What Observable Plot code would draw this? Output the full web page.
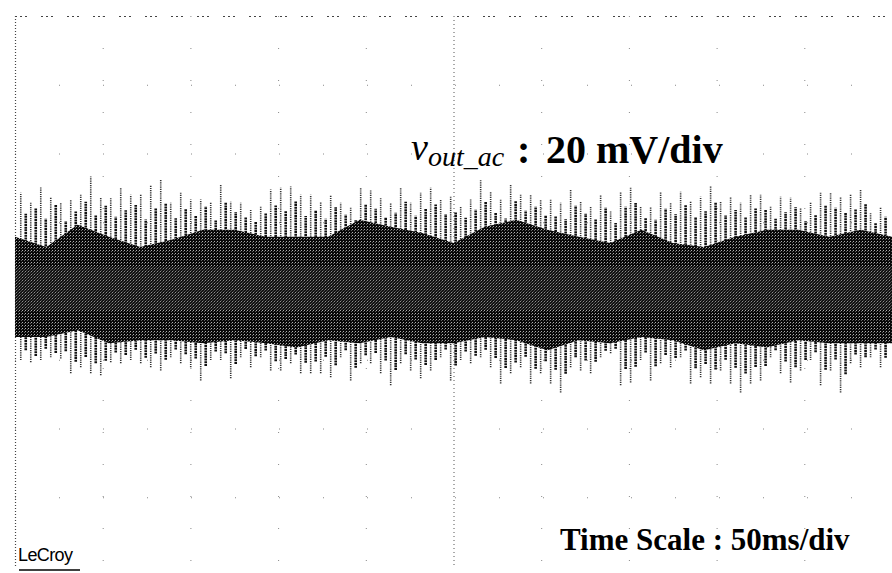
<!DOCTYPE html>
<html><head><meta charset="utf-8">
<script src="https://cdn.jsdelivr.net/npm/d3@7"></script>
<script src="https://cdn.jsdelivr.net/npm/@observablehq/plot@0.6"></script>
<style>
html,body{margin:0;padding:0;background:#fff;}
#wrap{position:relative;width:892px;height:573px;overflow:hidden;}
</style></head><body><div id="wrap"></div>
<script>
// v_out_ac noise trace, 20 mV/div, 50 ms/div (10 div x 8 div screen)
// Tallest spike excursions of the noise, read column by column (mV)
const peakHigh = [
  28.6,25.7,30.1,27.2,25.7,26.6,28.0,33.3,27.2,27.2,30.1,28.0,28.0,30.9,
  32.4,25.7,28.6,26.6,26.6,25.7,30.9,26.0,25.7,23.7,24.5,29.5,30.1,30.4,28.0,
  28.0,26.0,28.0,25.7,24.2,30.1,29.5,27.2,25.7,30.1,25.7,28.6,30.1,26.6,27.4,
  24.5,26.6,32.4,28.9,26.6,30.9,28.0,28.0,26.6,26.6,25.7,29.5,26.0,24.5,28.0,
  23.1,28.9,30.1,24.5,24.5,28.9,25.7,28.9,26.0,27.4,30.4,26.0,27.2,25.7,28.0,
  28.0,24.5,27.4,27.2,24.2,25.7,28.6,28.6,27.4,28.0,29.5,22.8,24.5
];
const peakLow = [
  -20.1,-20.7,-20.1,-19.3,-19.6,-23.9,-22.2,-23.9,-24.5,-20.7,-21.0,-20.1,-21.0,-22.2,
  -23.1,-19.3,-21.0,-22.2,-26.0,-20.1,-20.1,-25.4,-19.3,-22.2,-19.3,-23.1,-23.1,-21.0,-23.9,
  -23.9,-23.9,-25.1,-19.3,-26.0,-21.0,-21.0,-23.9,-27.4,-21.0,-23.1,-25.4,-23.1,-19.3,-26.0,
  -20.1,-21.0,-19.3,-22.2,-26.9,-23.9,-22.2,-26.9,-23.9,-26.9,-29.5,-22.2,-23.1,-23.9,-19.3,
  -18.1,-27.4,-26.6,-20.1,-26.0,-21.0,-22.2,-19.3,-26.9,-25.1,-26.9,-23.1,-26.9,-29.5,-26.9,
  -26.0,-19.3,-23.9,-26.6,-23.1,-20.1,-27.4,-23.1,-29.5,-21.0,-22.2,-19.3,-22.2
];
// Secondary (denser, darker) spikes between the tallest ones (mV)
const secondHigh = [
  22.5,24.0,21.0,25.2,20.4,23.1,26.0,22.0,24.8,21.6,23.5,25.0,20.8,24.2,
  25.5,21.2,23.8,22.0,24.6,20.5,25.8,23.0,21.4,20.2,22.6,24.9,23.3,26.1,21.8,
  23.6,21.0,24.4,22.2,20.6,25.3,23.9,21.5,22.8,26.0,21.9,24.1,25.2,22.4,23.0,
  21.3,23.7,25.9,22.9,21.1,26.2,23.4,24.6,22.1,21.8,20.9,24.8,22.5,21.0,24.3,
  19.8,24.5,25.6,21.2,20.7,23.9,22.3,25.1,21.5,23.2,25.9,22.0,23.6,21.4,24.0,
  23.8,21.0,22.9,24.4,20.3,22.1,25.0,24.2,22.7,23.9,25.4,19.9,21.6
];
const secondLow = [
  -17.2,-18.9,-16.8,-18.0,-17.5,-20.6,-19.2,-21.0,-20.3,-17.9,-18.6,-17.1,-19.4,-18.2,
  -20.0,-17.0,-18.4,-19.6,-21.8,-17.6,-18.1,-21.2,-16.9,-19.0,-17.3,-20.4,-19.8,-18.5,-20.9,
  -20.5,-19.1,-21.6,-17.2,-22.3,-18.7,-18.0,-20.2,-23.0,-18.4,-19.9,-21.5,-20.1,-17.0,-21.7,
  -17.6,-18.8,-17.1,-19.5,-22.4,-20.8,-19.1,-22.6,-20.4,-22.9,-24.1,-19.3,-20.2,-20.6,-17.4,
  -16.8,-22.7,-22.0,-17.9,-21.9,-18.6,-19.5,-17.3,-22.5,-21.2,-22.8,-20.0,-22.3,-24.0,-22.1,
  -21.8,-17.2,-20.5,-22.2,-20.1,-17.8,-22.9,-19.9,-24.2,-18.5,-19.3,-17.0,-19.4
];
// Dense core of the trace (mV)
const coreHigh = [15.8,12.8,19.3,15.8,12.8,14.9,17.8,17.8,15.8,15.8,15.8,20.7,18.7,16.9,14.0,
  18.7,20.7,17.8,15.8,14.0,17.8,14.0,12.8,15.8,17.8,17.8,15.8,17.8,15.8];
const coreLow = [-13.4,-13.4,-11.4,-15.2,-14.3,-14.3,-15.2,-14.3,-15.2,-16.4,-14.3,-15.2,-13.4,-15.2,-15.2,
  -13.4,-14.3,-17.2,-14.3,-15.2,-13.4,-14.3,-17.2,-15.2,-16.4,-14.3,-15.2,-15.2,-15.2];
const midBand = [7.0, -5.5];
const timeSpan = [0, 500];          // ms, 10 div x 50 ms
const voltSpan = [-80, 80];         // mV, 8 div x 20 mV
const xGrid = [50,100,150,200,300,350,400,450];
const yGrid = [-60,-40,-20,20,40,60];
const peakStep = 5.7, peakStart = 3;

const spikes = peakHigh.map((h, i) => ({t: peakStart + i * peakStep, hi: h, lo: peakLow[i]}));
const spikes2 = secondHigh.map((h, i) => ({t: peakStart + (i + 0.5) * peakStep, hi: h, lo: secondLow[i]}));
const core = coreHigh.map((h, i) => ({t: i * 500 / (coreHigh.length - 1), hi: h, lo: coreLow[i]}));
const mid = core.map(d => ({t: d.t, hi: midBand[0], lo: midBand[1]}));

const svg = Plot.plot({
  width: 892, height: 573,
  marginLeft: 15, marginRight: 0, marginTop: 16, marginBottom: 7,
  x: {domain: timeSpan, axis: null},
  y: {domain: voltSpan, axis: null},
  style: {background: "#fff"},
  marks: [
    Plot.ruleX(xGrid, {stroke: "#888", strokeWidth: 1, strokeDasharray: "1,31"}),
    Plot.ruleY(yGrid, {stroke: "#888", strokeWidth: 1, strokeDasharray: "1,43"}),
    Plot.ruleX([250], {stroke: "#555", strokeWidth: 1, strokeDasharray: "1,3"}),
    Plot.ruleX([0], {stroke: "#444", strokeWidth: 1.2, strokeDasharray: "1,2"}),
    Plot.ruleY([80], {stroke: "#444", strokeWidth: 1.2, strokeDasharray: "2,3,2,3,2,14"}),
    Plot.ruleX(spikes, {x: "t", y1: "lo", y2: "hi", stroke: "#333", strokeWidth: 1.6, strokeDasharray: "1.2,1"}),
    Plot.ruleX(spikes2, {x: "t", y1: "lo", y2: "hi", stroke: "#111", strokeWidth: 2.6, strokeDasharray: "2,0.7"}),
    Plot.areaY(core, {x: "t", y1: "lo", y2: "hi", fill: "url(#corePat)", curve: "linear"}),
    Plot.areaY(mid, {x: "t", y1: "lo", y2: "hi", fill: "url(#midPat)"})
  ]
});

const defs = d3.select(svg).insert("defs", ":first-child");
const p1 = defs.append("pattern").attr("id", "corePat").attr("patternUnits", "userSpaceOnUse").attr("width", 3).attr("height", 3);
p1.append("rect").attr("width", 3).attr("height", 3).attr("fill", "#080808");
p1.append("rect").attr("x", 1).attr("y", 1).attr("width", 1).attr("height", 1).attr("fill", "#b0b0b0");
p1.append("rect").attr("x", 0).attr("y", 2).attr("width", 1).attr("height", 1).attr("fill", "#606060");
const p2 = defs.append("pattern").attr("id", "midPat").attr("patternUnits", "userSpaceOnUse").attr("width", 3).attr("height", 3);
p2.append("rect").attr("width", 3).attr("height", 3).attr("fill", "#121212");
p2.append("rect").attr("x", 1).attr("y", 1).attr("width", 1).attr("height", 1).attr("fill", "#b0b0b0");
p2.append("path").attr("d", "M0,3 L3,0").attr("stroke", "#777").attr("stroke-width", 0.6);

const s = d3.select(svg);
const serif = "'Liberation Serif','Times New Roman',serif";
const lab = s.append("text").attr("x", 411).attr("y", 160).attr("text-anchor", "start")
  .attr("font-family", serif).attr("fill", "#000");
lab.append("tspan").attr("font-style", "italic").attr("font-size", 38).text("v");
lab.append("tspan").attr("font-style", "italic").attr("font-size", 28).attr("dy", 6).text("out_ac");
lab.append("tspan").attr("font-weight", "bold").attr("font-size", 40).attr("dy", -3).attr("x", 517).text(":");
lab.append("tspan").attr("font-weight", "bold").attr("font-size", 40).attr("x", 546).text("20 mV/div");

s.append("text").attr("x", 560).attr("y", 550).attr("text-anchor", "start")
  .attr("font-family", serif).attr("font-weight", "bold")
  .attr("font-size", 31).attr("fill", "#000").text("Time Scale : 50ms/div");

s.append("text").attr("x", 18).attr("y", 561).attr("text-anchor", "start")
  .attr("font-family", "'Liberation Sans',Arial,sans-serif").attr("font-size", 18)
  .attr("letter-spacing", -0.6).attr("fill", "#000").text("LeCroy");
s.append("line").attr("x1", 19).attr("x2", 80).attr("y1", 570).attr("y2", 570)
  .attr("stroke", "#000").attr("stroke-width", 1.5);

document.getElementById("wrap").appendChild(svg);
</script></body></html>
